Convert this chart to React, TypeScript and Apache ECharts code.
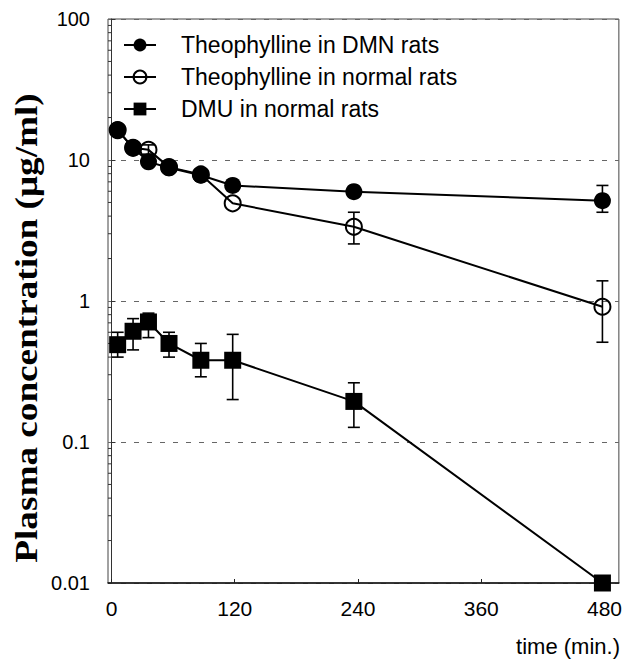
import React, { useEffect, useRef } from "react";
import * as echarts from "echarts";

const times = [6, 21, 36, 56, 87, 118, 236, 478];
const dmnValues = [16.3, 12.2, 9.7, 8.8, 7.8, 6.6, 5.96, 5.15];
const normalValues = [16.3, 12.2, 11.8, 8.9, 7.9, 4.93, 3.36, 0.91];
const dmuValues = [0.49, 0.61, 0.71, 0.5, 0.38, 0.38, 0.194, 0.01];

const dmnLow = [null, null, null, null, null, null, null, 4.26];
const dmnHigh = [null, null, null, null, null, null, null, 6.6];
const normalLow = [null, null, 11.0, null, null, null, 2.54, 0.51];
const normalHigh = [null, null, 12.8, null, null, null, 4.26, 1.39];
const dmuLow = [0.4, 0.45, 0.55, 0.4, 0.29, 0.2, 0.127, null];
const dmuHigh = [0.6, 0.75, 0.82, 0.6, 0.5, 0.58, 0.263, null];

const xTickValues = [0, 120, 240, 360, 480];
const seriesNames = [
  "Theophylline in DMN rats",
  "Theophylline in normal rats",
  "DMU in normal rats",
];
const xTitle = "time (min.)";
const yTitle = "Plasma concentration (\u03bcg/ml)";

const X_MIN = -3.4;
const X_MAX = 494;
const Y_MIN = 0.01;
const Y_MAX = 100;

function errData(low: (number | null)[], high: (number | null)[]) {
  const out: number[][] = [];
  times.forEach((t, i) => {
    const l = low[i];
    const h = high[i];
    if (l != null && h != null) out.push([t, l, h]);
  });
  return out;
}

const minorTickValues: number[] = [];
for (let e = -2; e < 2; e++) {
  for (let m = 2; m <= 9; m++) minorTickValues.push(Number((m * Math.pow(10, e)).toPrecision(3)));
}

function errorRender(params: any, api: any) {
  const x = api.value(0);
  const lo = api.coord([x, api.value(1)]);
  const hi = api.coord([x, api.value(2)]);
  const cap = 6;
  const style = { stroke: "#000", lineWidth: 1.6 };
  return {
    type: "group",
    children: [
      { type: "line", shape: { x1: lo[0], y1: lo[1], x2: hi[0], y2: hi[1] }, style },
      { type: "line", shape: { x1: lo[0] - cap, y1: lo[1], x2: lo[0] + cap, y2: lo[1] }, style },
      { type: "line", shape: { x1: hi[0] - cap, y1: hi[1], x2: hi[0] + cap, y2: hi[1] }, style },
    ],
  };
}

function minorRender(params: any, api: any) {
  const p = api.coord([X_MIN, api.value(1)]);
  return {
    type: "line",
    shape: { x1: p[0], y1: p[1], x2: p[0] + 3, y2: p[1] },
    style: { stroke: "#333", lineWidth: 1 },
  };
}

export default function App() {
  const ref = useRef<HTMLDivElement>(null);
  useEffect(() => {
    document.body.style.margin = "0";
    if (!ref.current) return;
    const chart = echarts.init(ref.current, null, { renderer: "svg" });
    const narrow = '"Liberation Sans Narrow", "Liberation Sans", Arial, sans-serif';
    chart.setOption({
      animation: false,
      backgroundColor: "#fff",
      grid: {
        left: 108,
        right: 3,
        top: 19,
        bottom: 77,
        show: true,
        borderColor: "#444",
        borderWidth: 1,
        backgroundColor: "transparent",
      },
      legend: {
        orient: "vertical",
        left: 118,
        top: 24,
        data: seriesNames,
        itemWidth: 32,
        itemHeight: 16,
        itemGap: 0,
        textStyle: {
          fontFamily: '"Liberation Sans", Arial, sans-serif',
          fontSize: 23,
          color: "#000",
          lineHeight: 32,
          padding: [0, 0, 0, 20],
        },
      },
      xAxis: {
        type: "value",
        min: X_MIN,
        max: X_MAX,
        axisLine: { show: true, lineStyle: { color: "#111", width: 1.5 } },
        axisTick: {
          show: true,
          inside: true,
          length: 4,
          customValues: xTickValues,
          lineStyle: { color: "#222" },
        },
        axisLabel: {
          customValues: xTickValues,
          margin: 15,
          color: "#000",
          fontFamily: narrow,
          fontSize: 21,
        },
        splitLine: { show: false },
      },
      yAxis: {
        type: "log",
        logBase: 10,
        min: Y_MIN,
        max: Y_MAX,
        axisLine: { show: true, lineStyle: { color: "#333", width: 1 } },
        axisTick: { show: true, inside: true, length: 4, lineStyle: { color: "#333" } },
        axisLabel: {
          margin: 18,
          color: "#000",
          fontFamily: narrow,
          fontSize: 20,
          formatter: (v: number) => String(Number(v.toPrecision(3))),
        },
        splitLine: {
          show: true,
          lineStyle: { color: "#666", type: [5, 8], width: 1 },
        },
      },
      graphic: [
        {
          type: "text",
          x: 26,
          y: 328,
          rotation: Math.PI / 2,
          scaleX: 1.2,
          style: {
            text: yTitle,
            font: 'bold 31px "Liberation Serif", "Times New Roman", serif',
            fill: "#000",
            textAlign: "center",
            textVerticalAlign: "middle",
            align: "center",
            verticalAlign: "middle",
          },
        },
        {
          type: "text",
          x: 620,
          y: 646,
          style: {
            text: xTitle,
            font: '22px "Liberation Sans", Arial, sans-serif',
            fill: "#000",
            textAlign: "right",
            textVerticalAlign: "middle",
            align: "right",
            verticalAlign: "middle",
          },
        },
      ],
      series: [
        {
          name: seriesNames[1],
          type: "line",
          data: times.map((t, i) => [t, normalValues[i]]),
          symbol: "circle",
          symbolSize: 16,
          itemStyle: { color: "transparent", borderColor: "#000", borderWidth: 2 },
          lineStyle: { color: "#000", width: 2 },
          z: 3,
        },
        {
          name: seriesNames[0],
          type: "line",
          data: times.map((t, i) => [t, dmnValues[i]]),
          symbol: "circle",
          symbolSize: 17,
          itemStyle: { color: "#000" },
          lineStyle: { color: "#000", width: 2 },
          z: 4,
        },
        {
          name: seriesNames[2],
          type: "line",
          data: times.map((t, i) => [t, dmuValues[i]]),
          symbol: "rect",
          symbolSize: 17,
          itemStyle: { color: "#000" },
          lineStyle: { color: "#000", width: 2 },
          z: 4,
        },
        {
          type: "custom",
          name: "err-dmn",
          renderItem: errorRender,
          data: errData(dmnLow, dmnHigh),
          encode: { x: 0, y: [1, 2] },
          silent: true,
          z: 2,
        },
        {
          type: "custom",
          name: "err-normal",
          renderItem: errorRender,
          data: errData(normalLow, normalHigh),
          encode: { x: 0, y: [1, 2] },
          silent: true,
          z: 2,
        },
        {
          type: "custom",
          name: "err-dmu",
          renderItem: errorRender,
          data: errData(dmuLow, dmuHigh),
          encode: { x: 0, y: [1, 2] },
          silent: true,
          z: 2,
        },
        {
          type: "custom",
          name: "minor-ticks",
          renderItem: minorRender,
          data: minorTickValues.map((v) => [X_MIN, v]),
          encode: { x: 0, y: 1 },
          silent: true,
          z: 1,
        },
      ],
    });
    return () => chart.dispose();
  }, []);
  return <div ref={ref} style={{ width: 625, height: 660 }} />;
}
